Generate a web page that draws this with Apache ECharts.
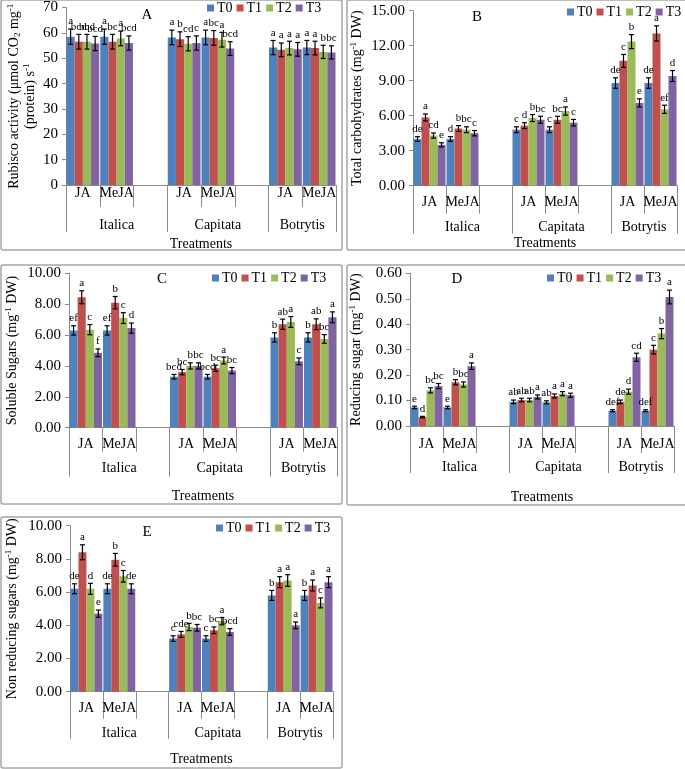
<!DOCTYPE html>
<html>
<head>
<meta charset="utf-8">
<script src="https://cdn.jsdelivr.net/npm/echarts@6/dist/echarts.min.js"></script>
<style>
html, body { margin: 0; padding: 0; background: #fff; }
#chart { width: 685px; height: 769px; }
</style>
</head>
<body>
<div id="chart"></div>
<script>
// Categorías: dos tratamientos por variedad, con un hueco vacío entre grupos
const categories = ['JA', 'MeJA', '', 'JA', 'MeJA', '', 'JA', 'MeJA']
const varieties = ['Italica', 'Capitata', 'Botrytis']
const groupBounds = [0, 3, 6, 8]
const seriesNames = ['T0', 'T1', 'T2', 'T3']

// A: Rubisco activity
const rubiscoT0 = [58.5, 58.5, null, 58.2, 58.2, null, 54.2, 54.2]
const rubiscoT1 = [56.5, 56.5, null, 57.5, 58.0, null, 53.3, 54.0]
const rubiscoT2 = [56.5, 57.8, null, 55.7, 57.3, null, 54.0, 52.5]
const rubiscoT3 = [55.8, 56.0, null, 56.0, 53.8, null, 53.5, 52.3]
const rubiscoErr = [
	[3.0, 3.0, null, 2.9, 2.9, null, 2.8, 2.8],
	[2.9, 2.9, null, 2.9, 2.9, null, 2.7, 2.7],
	[2.9, 2.9, null, 2.8, 2.9, null, 2.7, 2.6],
	[2.8, 2.8, null, 2.8, 2.7, null, 2.7, 2.6],
]
const rubiscoLetters = [
	['a', 'a', '', 'a', 'a', '', 'a', 'a'],
	['bcd', 'bc', '', 'b', 'bc', '', 'a', 'a'],
	['bcd', 'a', '', 'cd', 'a', '', 'a', 'b'],
	['bcd', 'bcd', '', 'c', 'bcd', '', 'a', 'bc'],
]

// B: Total carbohydrates
const carboT0 = [4.0, 4.0, null, 4.8, 4.8, null, 8.8, 8.8]
const carboT1 = [5.85, 4.9, null, 5.15, 5.65, null, 10.7, 13.05]
const carboT2 = [4.3, 4.8, null, 5.8, 6.4, null, 12.35, 6.55]
const carboT3 = [3.5, 4.5, null, 5.65, 5.4, null, 7.1, 9.4]
const carboErr = [
	[0.2, 0.2, null, 0.25, 0.25, null, 0.45, 0.45],
	[0.3, 0.25, null, 0.25, 0.3, null, 0.55, 0.65],
	[0.22, 0.25, null, 0.3, 0.35, null, 0.6, 0.35],
	[0.18, 0.23, null, 0.3, 0.28, null, 0.35, 0.47],
]
const carboLetters = [
	['de', 'd', '', 'c', 'c', '', 'de', 'de'],
	['a', 'b', '', 'd', 'bc', '', 'c', 'a'],
	['cd', 'bc', '', 'b', 'a', '', 'b', 'ef'],
	['e', 'c', '', 'bc', 'c', '', 'e', 'd'],
]

// C: Soluble sugars
const solubleT0 = [6.3, 6.3, null, 3.3, 3.3, null, 5.85, 5.85]
const solubleT1 = [8.45, 8.1, null, 3.6, 3.85, null, 6.7, 6.7]
const solubleT2 = [6.35, 7.1, null, 4.0, 4.35, null, 6.85, 5.75]
const solubleT3 = [4.85, 6.45, null, 4.0, 3.7, null, 4.3, 7.15]
const solubleErr = [
	[0.3, 0.3, null, 0.15, 0.15, null, 0.3, 0.3],
	[0.42, 0.4, null, 0.17, 0.2, null, 0.33, 0.35],
	[0.33, 0.35, null, 0.2, 0.22, null, 0.35, 0.28],
	[0.25, 0.33, null, 0.2, 0.2, null, 0.22, 0.35],
]
const solubleLetters = [
	['ef', 'ef', '', 'bcd', 'bcd', '', 'b', 'b'],
	['a', 'b', '', 'bc', 'bc', '', 'ab', 'ab'],
	['c', 'c', '', 'b', 'a', '', 'a', 'bc'],
	['f', 'd', '', 'bc', 'bc', '', 'c', 'a'],
]

// D: Reducing sugar
const reducingT0 = [0.073, 0.073, null, 0.095, 0.093, null, 0.06, 0.06]
const reducingT1 = [0.035, 0.172, null, 0.102, 0.118, null, 0.095, 0.30]
const reducingT2 = [0.14, 0.163, null, 0.102, 0.127, null, 0.135, 0.363]
const reducingT3 = [0.157, 0.235, null, 0.114, 0.121, null, 0.27, 0.507]
const reducingErr = [
	[0.005, 0.005, null, 0.007, 0.006, null, 0.004, 0.004],
	[0.003, 0.01, null, 0.007, 0.008, null, 0.007, 0.017],
	[0.01, 0.01, null, 0.007, 0.008, null, 0.01, 0.02],
	[0.01, 0.013, null, 0.008, 0.008, null, 0.016, 0.027],
]
const reducingLetters = [
	['e', 'e', '', 'ab', 'ab', '', 'def', 'def'],
	['d', 'b', '', 'ab', 'a', '', 'de', 'c'],
	['bc', 'bc', '', 'ab', 'a', '', 'd', 'b'],
	['bc', 'a', '', 'a', 'a', '', 'cd', 'a'],
]

// E: Non reducing sugars
const nonReducingT0 = [6.2, 6.2, null, 3.2, 3.2, null, 5.8, 5.8]
const nonReducingT1 = [8.4, 7.95, null, 3.45, 3.7, null, 6.6, 6.4]
const nonReducingT2 = [6.2, 6.95, null, 3.9, 4.25, null, 6.7, 5.35]
const nonReducingT3 = [4.7, 6.2, null, 3.85, 3.6, null, 4.0, 6.6]
const nonReducingErr = [
	[0.3, 0.3, null, 0.17, 0.17, null, 0.3, 0.3],
	[0.45, 0.38, null, 0.18, 0.2, null, 0.33, 0.33],
	[0.33, 0.35, null, 0.22, 0.22, null, 0.35, 0.3],
	[0.22, 0.3, null, 0.2, 0.2, null, 0.2, 0.33],
]
const nonReducingLetters = [
	['de', 'de', '', 'c', 'c', '', 'b', 'b'],
	['a', 'b', '', 'cde', 'bc', '', 'a', 'a'],
	['d', 'c', '', 'b', 'a', '', 'a', 'c'],
	['e', 'de', '', 'bc', 'bcd', '', 'a', 'a'],
]

const colores = ['#4F81BD', '#C0504D', '#9BBB59', '#8064A2']
const fuente = "'Liberation Serif', 'Times New Roman', serif"
const gris = '#8c8c8c'

// Paneles: datos + disposición
const paneles = [
	{
		letra: 'A', valores: [rubiscoT0, rubiscoT1, rubiscoT2, rubiscoT3], errores: rubiscoErr, letras: rubiscoLetters,
		nombreY: '{t|Rubisco activity (μmol CO}{sub|2}{t| mg}{sup|-1}\n{t|(protein) s}{sup|-1}',
		max: 70, intervalo: 10, dec: 0,
		grid: { left: 66, top: 7.3, width: 270, height: 177.7 },
		corto: 22, largo: 47, mLab: 1, mVar: 33, gapTrat: 52, gapY: 28,
		leyenda: { left: 207, top: 1 }, box: [1, 0, 341, 250], letraPos: [147, 15],
	},
	{
		letra: 'B', valores: [carboT0, carboT1, carboT2, carboT3], errores: carboErr, letras: carboLetters,
		nombreY: '{t|Total carbohydrates (mg}{sup|-1}{t| DW)}',
		max: 15, intervalo: 3, dec: 2,
		grid: { left: 413, top: 10.7, width: 264, height: 175 },
		corto: 28, largo: 48, mLab: 10, mVar: 35, gapTrat: 51, gapY: 48,
		leyenda: { left: 567, top: 5 }, box: [347, 0, 340, 250], letraPos: [477, 17],
	},
	{
		letra: 'C', valores: [solubleT0, solubleT1, solubleT2, solubleT3], errores: solubleErr, letras: solubleLetters,
		nombreY: '{t|Soluble Sugars (mg}{sup|-1}{t| DW)}',
		max: 10, intervalo: 2, dec: 2,
		grid: { left: 69, top: 273.3, width: 268, height: 154.4 },
		corto: 24, largo: 49, mLab: 10, mVar: 34, gapTrat: 62, gapY: 49,
		leyenda: { left: 212, top: 271 }, box: [1, 265, 341, 239], letraPos: [162, 279],
	},
	{
		letra: 'D', valores: [reducingT0, reducingT1, reducingT2, reducingT3], errores: reducingErr, letras: reducingLetters,
		nombreY: '{t|Reducing sugar (mg}{sup|-1}{t| DW)}',
		max: 0.6, intervalo: 0.1, dec: 2,
		grid: { left: 410, top: 273.3, width: 264, height: 152.7 },
		corto: 27, largo: 47, mLab: 11, mVar: 34, gapTrat: 64, gapY: 46,
		leyenda: { left: 547, top: 271 }, box: [347, 265, 340, 240], letraPos: [457, 279],
	},
	{
		letra: 'E', valores: [nonReducingT0, nonReducingT1, nonReducingT2, nonReducingT3], errores: nonReducingErr, letras: nonReducingLetters,
		nombreY: '{t|Non reducing sugars (mg}{sup|-1}{t| DW)}',
		max: 10, intervalo: 2, dec: 2,
		grid: { left: 70, top: 525.7, width: 263, height: 166 },
		corto: 27, largo: 47, mLab: 10, mVar: 35, gapTrat: 61, gapY: 50,
		leyenda: { left: 216, top: 521 }, box: [1, 517, 341, 251], letraPos: [147, 532],
	},
]

const huecoCategoria = 0.03
const nombreRico = {
	t: { fontFamily: fuente, fontSize: 14, color: '#000', lineHeight: 16 },
	sup: { fontFamily: fuente, fontSize: 9, color: '#000', verticalAlign: 'top', lineHeight: 16 },
	sub: { fontFamily: fuente, fontSize: 9, color: '#000', verticalAlign: 'bottom', lineHeight: 16 },
}

// Centros de cada variedad sobre el eje secundario
const centrosVariedad = varieties.map((v, i) => (groupBounds[i] + groupBounds[i + 1]) / 2)

const grid = []
const xAxis = []
const yAxis = []
const legend = []
const series = []
const graphic = []

paneles.forEach((p, i) => {
	grid.push(Object.assign({ containLabel: false }, p.grid))

	// Eje de categorías (JA / MeJA)
	xAxis.push({
		type: 'category',
		gridIndex: i,
		data: categories,
		position: 'bottom',
		axisLine: { lineStyle: { color: gris, width: 1 } },
		axisTick: { show: true, interval: 0, length: p.corto, lineStyle: { color: gris } },
		axisLabel: { interval: 0, margin: p.mLab, fontFamily: fuente, fontSize: 14, color: '#000' },
		splitLine: { show: false },
	})
	// Eje secundario de variedades
	xAxis.push({
		type: 'value',
		gridIndex: i,
		position: 'bottom',
		min: 0,
		max: categories.length,
		axisLine: { show: false },
		axisTick: { show: true, customValues: groupBounds, length: p.largo, lineStyle: { color: gris } },
		axisLabel: {
			customValues: centrosVariedad,
			margin: p.mVar,
			fontFamily: fuente,
			fontSize: 14,
			color: '#000',
			formatter: (v) => varieties[centrosVariedad.indexOf(v)] || '',
		},
		splitLine: { show: false },
		name: 'Treatments',
		nameLocation: 'middle',
		nameGap: p.gapTrat,
		nameTextStyle: { fontFamily: fuente, fontSize: 14, color: '#000' },
	})

	yAxis.push({
		type: 'value',
		gridIndex: i,
		min: 0,
		max: p.max,
		interval: p.intervalo,
		axisLine: { show: true, lineStyle: { color: gris, width: 1 } },
		axisTick: { show: true, length: 4, lineStyle: { color: gris } },
		axisLabel: {
			margin: 8,
			fontFamily: fuente,
			fontSize: 15,
			color: '#000',
			formatter: (v) => v.toFixed(p.dec),
		},
		splitLine: { show: false },
		name: p.nombreY,
		nameLocation: 'middle',
		nameGap: p.gapY,
		nameTextStyle: { rich: nombreRico },
	})

	legend.push({
		data: seriesNames,
		left: p.leyenda.left,
		top: p.leyenda.top,
		padding: 0,
		icon: 'rect',
		itemWidth: 7,
		itemHeight: 7,
		itemGap: 4,
		textStyle: { fontFamily: fuente, fontSize: 14, color: '#000', padding: [0, 0, 0, -2] },
	})

	p.valores.forEach((vals, s) => {
		series.push({
			name: seriesNames[s],
			type: 'bar',
			xAxisIndex: i * 2,
			yAxisIndex: i,
			data: vals,
			barGap: '0%',
			barCategoryGap: huecoCategoria * 100 + '%',
			itemStyle: { color: colores[s] },
			silent: true,
		})
	})

	// Barras de error y letras
	const items = []
	const letrasItems = []
	p.valores.forEach((vals, s) => {
		vals.forEach((v, c) => {
			if (v === null) return
			items.push([c, v, p.errores[s][c], s])
			letrasItems.push(p.letras[s][c])
		})
	})
	series.push({
		type: 'custom',
		xAxisIndex: i * 2,
		yAxisIndex: i,
		data: items,
		z: 10,
		silent: true,
		renderItem: (params, api) => {
			const c = api.value(0)
			const v = api.value(1)
			const e = api.value(2)
			const s = api.value(3)
			const banda = api.size([1, 0])[0]
			const anchoBarra = (banda * (1 - huecoCategoria)) / 4
			const x = api.coord([c, v])[0] + (s - 1.5) * anchoBarra
			const arriba = api.coord([c, v + e])[1]
			const abajo = api.coord([c, v - e])[1]
			const tapa = 2.5
			const estilo = { stroke: '#000', lineWidth: 1.2 }
			return {
				type: 'group',
				children: [
					{ type: 'line', shape: { x1: x, y1: arriba, x2: x, y2: abajo }, style: estilo },
					{ type: 'line', shape: { x1: x - tapa, y1: arriba, x2: x + tapa, y2: arriba }, style: estilo },
					{ type: 'line', shape: { x1: x - tapa, y1: abajo, x2: x + tapa, y2: abajo }, style: estilo },
					{
						type: 'text',
						x: x,
						y: arriba - 2,
						style: {
							text: letrasItems[params.dataIndex],
							align: 'center',
							verticalAlign: 'bottom',
							font: '11px ' + fuente,
							fill: '#000',
						},
					},
				],
			}
		},
	})

	// Marco del panel y letra del panel
	graphic.push({
		type: 'rect',
		shape: { x: p.box[0], y: p.box[1], width: p.box[2], height: p.box[3], r: 2 },
		style: { fill: 'none', stroke: '#a6a6a6', lineWidth: 1.5 },
		silent: true,
	})
	graphic.push({
		type: 'text',
		x: p.letraPos[0],
		y: p.letraPos[1],
		style: { text: p.letra, font: '15px ' + fuente, fill: '#000', align: 'center', verticalAlign: 'middle' },
		silent: true,
	})
})

const chart = echarts.init(document.getElementById('chart'), null, { renderer: 'canvas' })
chart.setOption({
	animation: false,
	backgroundColor: '#fff',
	grid,
	xAxis,
	yAxis,
	legend,
	series,
	graphic,
})
</script>
</body>
</html>
